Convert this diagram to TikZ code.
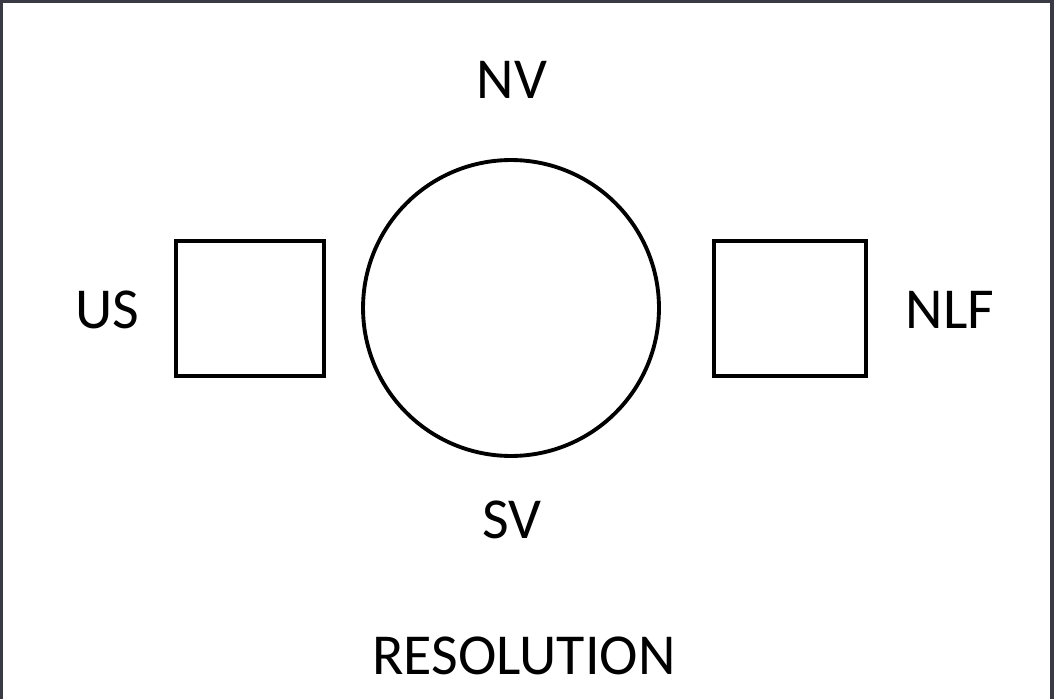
\documentclass[tikz,border=0pt]{standalone}
\usepackage{fontspec}
\setmainfont{Carlito}
\usepackage{xcolor}
\usetikzlibrary{positioning}
\definecolor{frame}{RGB}{58,58,68}

\begin{document}
\begin{tikzpicture}[x=0.02cm,y=-0.02cm,
  blk/.style={draw,line width=2.2pt,minimum width=2.96cm,minimum height=2.7cm,inner sep=0pt},
  ring/.style={draw,circle,line width=2.2pt,minimum size=5.92cm,inner sep=0pt},
  lbl/.style={font=\fontsize{33}{40}\selectfont,inner sep=0pt}]
\useasboundingbox (0,0) rectangle (1054,699);
\draw[frame,line width=2.4pt] (1,699) -- (1,1) -- (1052,1) -- (1052,699);
\node[blk]  (us)  at (250,308.5) {};
\node[ring] (mid) at (511,308)   {};
\node[blk,minimum width=3.04cm] (nlf) at (790,308.5) {};
\node[lbl] (usl)  at (107,310) {US};
\node[lbl] (nlfl) at (950,310) {NLF};
\node[lbl] (nv)   at (512,80)  {NV};
\node[lbl] (sv)   at (512,520) {SV};
\node[lbl] (res)  at (524,656) {RESOLUTION};
\end{tikzpicture}
\end{document}
